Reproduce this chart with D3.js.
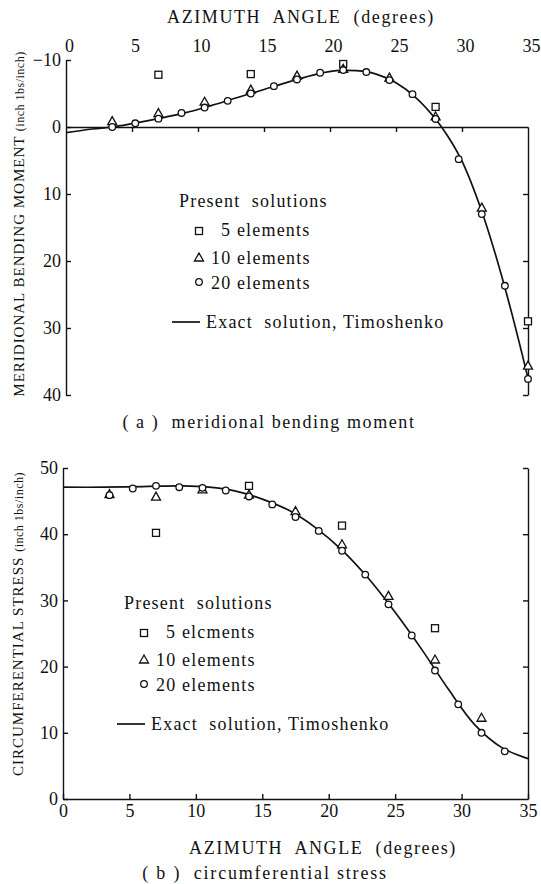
<!DOCTYPE html>
<html>
<head>
<meta charset="utf-8">
<script src="https://d3js.org/d3.v7.min.js"></script>
<style>
body { margin: 0; background: #fff; }
svg text { font-family: "Liberation Serif", "DejaVu Serif", serif; fill: #111; white-space: pre; }
.line { fill: none; stroke: #111; stroke-width: 1.7; }
.mk { fill: #fff; stroke: #111; stroke-width: 1.3; }
.axis path, .axis line { stroke: #111; stroke-width: 1.4; }
</style>
</head>
<body>
<svg id="chart" width="541" height="884"></svg>
<script>
// azimuth angle ticks, shared by both panels
var degTicks = [0, 5, 10, 15, 20, 25, 30, 35];

// (a) meridional bending moment, positive downward
var momentTicks = [-10, 0, 10, 20, 30, 40];
var momentExactX = [0, 2, 3.5, 5, 7, 9, 11, 13, 15, 17, 19, 20.5, 22, 23.5, 25, 26.5, 28, 29, 30, 31.5, 33, 35];
var momentExactY = [0.85, 0.3, 0, -0.5, -1.25, -2.1, -3.2, -4.4, -5.6, -6.8, -7.9, -8.4, -8.4, -7.9, -6.6, -4.4, -1.2, 1.6, 5.1, 12.6, 22.2, 37.5];
var moment5 = [[7, -7.8], [14, -7.9], [21, -9.4], [28, -3.0], [35, 29.0]];
var moment10 = [[3.5, -0.8], [7, -2.0], [10.5, -3.7], [14, -5.5], [17.5, -7.6], [21, -8.6], [24.5, -7.3], [28, -1.5], [31.5, 12.1], [35, 35.7]];
var moment20 = [[3.5, 0], [5.25, -0.55], [7, -1.25], [8.75, -2.1], [10.5, -2.9], [12.25, -3.9], [14, -5.0], [15.75, -6.1],
  [17.5, -7.1], [19.25, -8.1], [21, -8.5], [22.75, -8.2], [24.5, -7.0], [26.25, -4.9], [28, -1.2], [29.75, 4.8],
  [31.5, 13.0], [33.25, 23.7], [35, 37.6]];

// (b) circumferential stress
var stressTicks = [0, 10, 20, 30, 40, 50];
var stressExactX = [0, 3, 6, 9, 11, 13, 15, 17, 19, 21, 23, 25, 27, 29, 31, 33, 35];
var stressExactY = [47.1, 47.1, 47.2, 47.3, 47.1, 46.5, 45.3, 43.6, 41.0, 37.6, 33.3, 28.2, 22.6, 16.6, 11.2, 7.8, 6.1];
var stress5 = [[7, 40.2], [14, 47.3], [21, 41.3], [28, 25.8]];
var stress10 = [[3.5, 46.0], [7, 45.6], [10.5, 46.7], [14, 45.9], [17.5, 43.4], [21, 38.4], [24.5, 30.6], [28, 21.0], [31.5, 12.2]];
var stress20 = [[3.5, 45.9], [5.25, 46.9], [7, 47.3], [8.75, 47.1], [10.5, 47.0], [12.25, 46.6], [14, 45.7], [15.75, 44.5],
  [17.5, 42.6], [19.25, 40.5], [21, 37.5], [22.75, 33.9], [24.5, 29.4], [26.25, 24.7], [28, 19.4], [29.75, 14.3],
  [31.5, 10.0], [33.25, 7.2]];

var svg = d3.select("#chart");

function zip(xs, ys) { return xs.map(function(d, i) { return [d, ys[i]]; }); }

// marker shapes
function square(g, pts, x, y) {
  g.selectAll(null).data(pts).enter().append("rect").attr("class", "mk")
    .attr("x", function(d) { return x(d[0]) - 3.5; })
    .attr("y", function(d) { return y(d[1]) - 3.5; })
    .attr("width", 7).attr("height", 7);
}
function triangle(g, pts, x, y) {
  g.selectAll(null).data(pts).enter().append("path").attr("class", "mk")
    .attr("d", function(d) {
      var cx = x(d[0]), cy = y(d[1]);
      return "M" + cx + "," + (cy - 5) + "L" + (cx + 4.5) + "," + (cy + 3) + "L" + (cx - 4.5) + "," + (cy + 3) + "Z";
    });
}
function circle(g, pts, x, y) {
  g.selectAll(null).data(pts).enter().append("circle").attr("class", "mk")
    .attr("cx", function(d) { return x(d[0]); })
    .attr("cy", function(d) { return y(d[1]); })
    .attr("r", 3.3);
}

function styleAxis(g, size) {
  g.attr("class", "axis").attr("font-family", null).attr("font-size", null);
  g.selectAll("text").style("font-size", size + "px");
}

function legend(g, x0, y0, elTxt) {
  // x0 = marker column, y0 = baseline of "Present solutions"
  var lg = g.append("g").style("font-size", "18px").style("letter-spacing", "1.2px");
  lg.append("text").attr("x", x0 - 20).attr("y", y0).text("Present  solutions");
  var unit = function(v) { return v; };
  square(lg, [[x0, y0 + 24]], unit, unit);
  lg.append("text").attr("x", x0 + 22).attr("y", y0 + 29).text("5 " + elTxt);
  triangle(lg, [[x0, y0 + 51]], unit, unit);
  lg.append("text").attr("x", x0 + 12).attr("y", y0 + 57).text("10 elements");
  circle(lg, [[x0, y0 + 75]], unit, unit);
  lg.append("text").attr("x", x0 + 12).attr("y", y0 + 82).text("20 elements");
  lg.append("line").attr("class", "line").attr("x1", x0 - 27).attr("x2", x0 + 1)
    .attr("y1", y0 + 115).attr("y2", y0 + 115);
  lg.append("text").attr("x", x0 + 7).attr("y", y0 + 121).text("Exact  solution, Timoshenko");
}

var line = d3.line().curve(d3.curveCatmullRom);

// ---------- (a) meridional bending moment ----------
var xA = d3.scaleLinear().domain([0, 35]).range([66, 528]);
var yA = d3.scaleLinear().domain([-10, 40]).range([60, 395]);
var gA = svg.append("g");

gA.append("text").attr("x", 301).attr("y", 23).attr("text-anchor", "middle")
  .style("font-size", "18px").style("letter-spacing", "1.6px").text("AZIMUTH  ANGLE  (degrees)");

// angle labels above the panel
var topAx = gA.append("g").attr("transform", "translate(0,52)")
  .call(d3.axisTop(xA).tickValues(degTicks).tickSize(0).tickPadding(0));
topAx.select(".domain").remove();
styleAxis(topAx, 18);
topAx.selectAll("text").attr("dx", 3);

var leftA = gA.append("g").attr("transform", "translate(66,0)")
  .call(d3.axisLeft(yA).tickValues(momentTicks).tickSizeInner(-5).tickSizeOuter(0).tickPadding(5)
    .tickFormat(function(d) { return d < 0 ? "\u2212" + Math.abs(d) : d; }));
styleAxis(leftA, 18);

// zero line with downward ticks
var zeroA = gA.append("g").attr("transform", "translate(0," + yA(0) + ")")
  .call(d3.axisBottom(xA).tickValues([5, 10, 15, 20, 25, 30]).tickSizeInner(5).tickSizeOuter(0).tickFormat(""));
styleAxis(zeroA, 18);

var yAr = yA.copy().domain([0, 40]).range([yA(0), yA(40)]);
var rightA = gA.append("g").attr("transform", "translate(528,0)")
  .call(d3.axisRight(yAr).tickValues([10, 20, 30, 40]).tickSizeInner(-5).tickSizeOuter(0).tickFormat(""));
styleAxis(rightA, 18);

gA.append("path").attr("class", "line").attr("d", line(zip(momentExactX, momentExactY).map(function(d) { return [xA(d[0]), yA(d[1])]; })));
square(gA, moment5, xA, yA);
triangle(gA, moment10, xA, yA);
circle(gA, moment20, xA, yA);

legend(gA, 199, 207, "elements");

gA.append("text").attr("transform", "translate(24,224) rotate(-90)").attr("text-anchor", "middle")
  .style("font-size", "15px").style("letter-spacing", "1px")
  .call(function(t) {
    t.append("tspan").text("MERIDIONAL BENDING MOMENT ");
    t.append("tspan").style("font-size", "12px").style("letter-spacing", "0.5px").text("(inch 1bs/inch)");
  });

gA.append("text").attr("x", 269).attr("y", 428).attr("text-anchor", "middle")
  .style("font-size", "18px").style("letter-spacing", "1.6px").text("( a )  meridional bending moment");

// ---------- (b) circumferential stress ----------
var xB = d3.scaleLinear().domain([0, 35]).range([63, 528]);
var yB = d3.scaleLinear().domain([0, 50]).range([799, 468]);
var gB = svg.append("g");

var leftB = gB.append("g").attr("transform", "translate(63,0)")
  .call(d3.axisLeft(yB).tickValues(stressTicks).tickSizeInner(-5).tickSizeOuter(0).tickPadding(5));
styleAxis(leftB, 18);

var botB = gB.append("g").attr("transform", "translate(0,799)")
  .call(d3.axisBottom(xB).tickValues(degTicks).tickSizeInner(-5).tickSizeOuter(0).tickPadding(5));
styleAxis(botB, 18);

var rightB = gB.append("g").attr("transform", "translate(528,0)")
  .call(d3.axisRight(yB).tickValues([10, 20, 30, 40, 50]).tickSizeInner(-5).tickSizeOuter(0).tickFormat(""));
styleAxis(rightB, 18);

gB.append("path").attr("class", "line").attr("d", line(zip(stressExactX, stressExactY).map(function(d) { return [xB(d[0]), yB(d[1])]; })));
square(gB, stress5, xB, yB);
triangle(gB, stress10, xB, yB);
circle(gB, stress20, xB, yB);

legend(gB, 144, 609, "elcments");

gB.append("text").attr("transform", "translate(23,624) rotate(-90)").attr("text-anchor", "middle")
  .style("font-size", "15px").style("letter-spacing", "1px")
  .call(function(t) {
    t.append("tspan").text("CIRCUMFERENTIAL STRESS ");
    t.append("tspan").style("font-size", "12px").style("letter-spacing", "0.5px").text("(inch 1bs/inch)");
  });

gB.append("text").attr("x", 323).attr("y", 854).attr("text-anchor", "middle")
  .style("font-size", "18px").style("letter-spacing", "1.6px").text("AZIMUTH  ANGLE  (degrees)");

gB.append("text").attr("x", 265).attr("y", 879).attr("text-anchor", "middle")
  .style("font-size", "18px").style("letter-spacing", "1.8px").text("( b )  circumferential stress");
</script>
</body>
</html>
